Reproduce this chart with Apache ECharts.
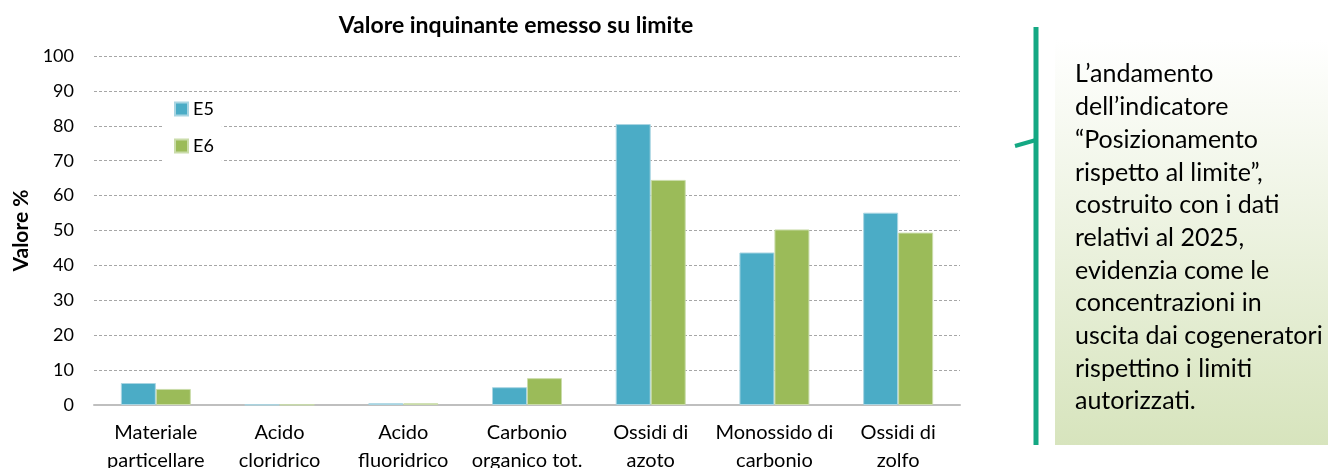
<!DOCTYPE html>
<html>
<head>
<meta charset="utf-8">
<script src="https://cdn.jsdelivr.net/npm/echarts@6/dist/echarts.min.js"></script>
<style>
  html, body { margin: 0; padding: 0; background: #fff; }
  #chart { width: 1328px; height: 468px; }
</style>
</head>
<body>
<div id="chart"></div>
<script>
var categories = ['Materiale\nparticellare', 'Acido\ncloridrico', 'Acido\nfluoridrico', 'Carbonio\norganico tot.', 'Ossidi di\nazoto', 'Monossido di\ncarbonio', 'Ossidi di\nzolfo'];
var e5Values = [6.3, 0.1, 0.5, 5.1, 80.5, 43.7, 55.1];
var e6Values = [4.6, 0.1, 0.5, 7.7, 64.5, 50.3, 49.4];
var seriesNames = ['E5', 'E6'];
var noteLines = [
    'L\u2019andamento',
    'dell\u2019indicatore',
    '\u201cPosizionamento',
    'rispetto al limite\u201d,',
    'costruito con i dati',
    'relativi al 2025,',
    'evidenzia come le',
    'concentrazioni in',
    'uscita dai cogeneratori',
    'rispettino i limiti',
    'autorizzati.'
];

var fontName = 'Lato';

var chart = echarts.init(document.getElementById('chart'));

var option = {
    backgroundColor: '#fff',
    animation: false,
    textStyle: { fontFamily: fontName },
    title: {
        text: 'Valore inquinante emesso su limite',
        left: 511,
        textAlign: 'center',
        top: 9,
        textStyle: { fontFamily: fontName, fontSize: 23, fontWeight: 'bold', color: '#000' }
    },
    legend: {
        orient: 'vertical',
        left: 163,
        top: 93,
        padding: [7, 8, 6, 11],
        backgroundColor: '#fff',
        itemWidth: 13,
        itemHeight: 13,
        itemGap: 19,
        icon: 'rect',
        data: seriesNames,
        textStyle: { fontFamily: fontName, fontSize: 18, color: '#000' }
    },
    grid: { left: 94, right: 368, top: 56, bottom: 63, containLabel: false, outerBoundsMode: 'none' },
    xAxis: {
        type: 'category',
        data: categories,
        axisLine: { lineStyle: { color: '#bfbfbf', width: 2 } },
        axisTick: { show: false },
        axisLabel: {
            interval: 0,
            margin: 14,
            lineHeight: 28,
            fontFamily: fontName,
            fontSize: 20,
            color: '#000'
        }
    },
    yAxis: {
        type: 'value',
        min: 0,
        max: 100,
        interval: 10,
        name: 'Valore %',
        nameLocation: 'middle',
        nameGap: 61,
        nameTextStyle: { fontFamily: fontName, fontSize: 21, fontWeight: 'bold', color: '#000' },
        axisLine: { show: false },
        axisTick: { show: false },
        axisLabel: { margin: 20, fontFamily: fontName, fontSize: 18, color: '#000' },
        splitLine: { lineStyle: { color: '#a6a6a6', type: [3, 2], width: 1 } }
    },
    series: [{
        name: seriesNames[0],
        type: 'bar',
        barWidth: 35,
        barGap: '0%',
        data: e5Values,
        itemStyle: { color: '#4bacc6', borderColor: '#a9d5e2', borderWidth: 1 }
    }, {
        name: seriesNames[1],
        type: 'bar',
        barWidth: 35,
        barGap: '0%',
        data: e6Values,
        itemStyle: { color: '#9bbb59', borderColor: '#cadcaa', borderWidth: 1 }
    }],
    graphic: [{
        type: 'rect',
        shape: { x: 1055, y: 40, width: 273, height: 405 },
        style: {
            fill: new echarts.graphic.LinearGradient(0, 0, 0, 1, [
                { offset: 0, color: '#ffffff' },
                { offset: 1, color: '#d7e4bd' }
            ])
        },
        silent: true
    }, {
        type: 'line',
        shape: { x1: 1036, y1: 27, x2: 1036, y2: 445 },
        style: { stroke: '#14a883', lineWidth: 5 },
        silent: true
    }, {
        type: 'line',
        shape: { x1: 1015, y1: 146, x2: 1036, y2: 140 },
        style: { stroke: '#14a883', lineWidth: 4 },
        silent: true
    }, {
        type: 'text',
        left: 1075,
        top: 58,
        style: {
            text: noteLines.join('\n'),
            fontFamily: fontName,
            fontSize: 25,
            lineHeight: 32.7,
            fill: '#000'
        },
        silent: true
    }]
};

chart.setOption(option);
</script>
</body>
</html>
